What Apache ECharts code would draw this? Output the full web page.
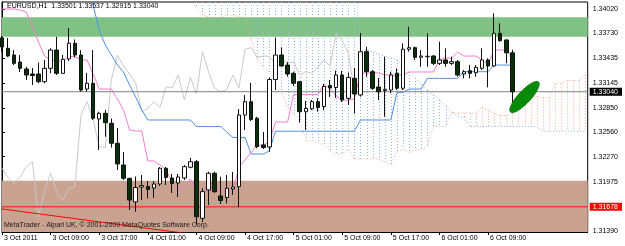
<!DOCTYPE html>
<html><head><meta charset="utf-8">
<script src="https://cdn.jsdelivr.net/npm/echarts@6/dist/echarts.min.js"></script>
<style>html,body{margin:0;padding:0;background:#fff}#c{width:625px;height:246px}</style>
</head><body><div id="c"></div>
<script>
// ---- data (EURUSD H1, bar index 0 = 3 Oct 2011 01:00) ----
const opens = [1.33677,1.33554,1.33475,1.33392,1.33309,1.33250,1.33250,1.33159,1.33317,1.33534,
1.33258,1.33428,1.33614,1.33475,1.33072,1.33140,1.32717,1.32784,1.32666,1.32429,
1.32172,1.32014,1.31734,1.31911,1.31917,1.31899,1.31947,1.32133,1.32018,1.31959,
1.32018,1.32145,1.32211,1.31540,1.31876,1.32074,1.31805,1.31787,1.31887,1.31915,
1.32764,1.32922,1.32725,1.32409,1.32385,1.33185,1.33475,1.33356,1.33258,1.33159,
1.32803,1.32838,1.32922,1.32865,1.33114,1.33090,1.33238,1.32962,1.33199,1.33001,
1.33514,1.33277,1.33096,1.33055,1.33060,1.33258,1.33081,1.33543,1.33562,1.33448,
1.33455,1.33463,1.33376,1.33416,1.33376,1.33396,1.33250,1.33289,1.33265,1.33317,
1.33416,1.33345,1.33732,1.33653,1.33501];
const highs = [1.33700,1.33677,1.33534,1.33475,1.33336,1.33321,1.33386,1.33416,1.33554,1.33692,
1.33475,1.33795,1.33659,1.33534,1.33262,1.33534,1.32803,1.32823,1.32723,1.32610,
1.32326,1.32018,1.32036,1.32054,1.31982,1.31982,1.32148,1.32148,1.32065,1.32065,
1.32172,1.32255,1.32231,1.31896,1.32093,1.32093,1.32034,1.32054,1.32089,1.32835,
1.33001,1.33144,1.32744,1.32563,1.33209,1.33682,1.33564,1.33392,1.33277,1.33167,
1.32930,1.32942,1.32962,1.33132,1.33179,1.33291,1.33285,1.33268,1.33321,1.33736,
1.33574,1.33297,1.33202,1.33455,1.33277,1.33317,1.33614,1.33810,1.33574,1.33534,
1.33732,1.33475,1.33633,1.33554,1.33455,1.33416,1.33297,1.33356,1.33356,1.33554,
1.33436,1.33969,1.33851,1.33661,1.33537];
const lows = [1.33510,1.33451,1.33356,1.33274,1.33179,1.33120,1.33140,1.33140,1.33258,1.33238,
1.33250,1.33404,1.33445,1.33040,1.33040,1.32705,1.32350,1.32507,1.32379,1.32113,
1.31994,1.31639,1.31619,1.31757,1.31775,1.31781,1.31923,1.31935,1.31840,1.31793,
1.31994,1.32133,1.31461,1.31497,1.31698,1.31840,1.31710,1.31718,1.31817,1.31674,
1.32587,1.32693,1.32370,1.32361,1.32329,1.33060,1.33336,1.33218,1.33108,1.32675,
1.32587,1.32823,1.32803,1.32823,1.32977,1.32966,1.32918,1.32883,1.32784,1.32981,
1.33218,1.33060,1.32942,1.32744,1.33021,1.33060,1.33060,1.33514,1.33416,1.33336,
1.33336,1.33356,1.33356,1.33336,1.33356,1.33218,1.33199,1.33199,1.33218,1.33297,
1.33092,1.33336,1.33633,1.33377,1.32915];
const closes = [1.33570,1.33463,1.33376,1.33317,1.33238,1.33232,1.33159,1.33317,1.33534,1.33258,
1.33424,1.33614,1.33475,1.33060,1.33140,1.32725,1.32784,1.32673,1.32429,1.32184,
1.32014,1.31757,1.31905,1.31929,1.31882,1.31947,1.32133,1.32024,1.31953,1.32030,
1.32152,1.32211,1.31559,1.31856,1.32074,1.31856,1.31751,1.31896,1.31911,1.32764,
1.32922,1.32711,1.32389,1.32379,1.33185,1.33475,1.33345,1.33250,1.33140,1.32803,
1.32843,1.32922,1.32853,1.33102,1.33084,1.33238,1.32942,1.33209,1.33013,1.33514,
1.33277,1.33081,1.33040,1.33069,1.33238,1.33081,1.33543,1.33562,1.33448,1.33463,
1.33460,1.33376,1.33416,1.33376,1.33396,1.33238,1.33277,1.33258,1.33329,1.33416,
1.33345,1.33732,1.33645,1.33501,1.33040];
const tenkan = [1.34020,1.34020,1.34020,1.34008,1.33985,1.33819,1.33629,1.33463,1.33416,1.33404,
1.33404,1.33457,1.33457,1.33416,1.33416,1.33250,1.33072,1.33072,1.33072,1.32954,
1.32823,1.32587,1.32575,1.32575,1.32220,1.32220,1.32172,1.32113,1.31970,1.31887,
1.31899,1.32006,1.31858,1.31858,1.31858,1.31858,1.31858,1.31858,1.31858,1.32148,
1.32231,1.32320,1.32409,1.32409,1.32444,1.32681,1.32681,1.32681,1.33006,1.33006,
1.33006,1.33006,1.33006,1.33131,1.33072,1.32989,1.32942,1.32942,1.32954,1.33262,
1.33262,1.33262,1.33262,1.33238,1.33238,1.33238,1.33238,1.33274,1.33274,1.33274,
1.33274,1.33274,1.33416,1.33439,1.33439,1.33510,1.33463,1.33463,1.33463,1.33416,
1.33362,1.33534,1.33534,1.33534,1.33439];
const kijun = [1.34435,1.34435,1.34435,1.34435,1.34435,1.34435,1.34435,1.34435,1.34435,1.34435,
1.34435,1.34435,1.34435,1.34435,1.34435,1.34067,1.33771,1.33593,1.33475,1.33356,
1.33274,1.33120,1.32977,1.32823,1.32705,1.32705,1.32705,1.32705,1.32705,1.32705,
1.32705,1.32705,1.32628,1.32628,1.32628,1.32628,1.32628,1.32563,1.32498,1.32498,
1.32498,1.32302,1.32302,1.32302,1.32338,1.32572,1.32572,1.32572,1.32572,1.32572,
1.32572,1.32572,1.32572,1.32572,1.32572,1.32572,1.32572,1.32572,1.32572,1.32705,
1.32705,1.32705,1.32705,1.32705,1.32705,1.33032,1.33032,1.33072,1.33072,1.33072,
1.33198,1.33198,1.33198,1.33198,1.33198,1.33198,1.33277,1.33277,1.33277,1.33277,
1.33277,1.33356,1.33356,1.33356,1.33356];
const chikou = [1.32133,1.32024,1.31953,1.32030,1.32152,1.32211,1.31559,1.31856,1.32074,1.31856,
1.31751,1.31896,1.31911,1.32764,1.32922,1.32711,1.32389,1.32379,1.33185,1.33475,
1.33345,1.33250,1.33140,1.32803,1.32843,1.32922,1.32853,1.33102,1.33084,1.33238,
1.32942,1.33209,1.33013,1.33514,1.33277,1.33081,1.33040,1.33069,1.33238,1.33081,
1.33543,1.33562,1.33448,1.33463,1.33460,1.33376,1.33416,1.33376,1.33396,1.33238,
1.33277,1.33258,1.33329,1.33416,1.33345,1.33732,1.33645,1.33501,1.33040];
const spanA = [1.34245,1.34245,1.34245,1.34245,1.34245,1.34245,1.34245,1.34245,1.34245,1.34245,
1.34245,1.34245,1.34245,1.34245,1.34245,1.34245,1.34245,1.34245,1.34245,1.34245,
1.34245,1.34245,1.34245,1.34245,1.34245,1.34245,1.34227,1.34227,1.34227,1.34221,
1.34210,1.34127,1.34032,1.33949,1.33925,1.33919,1.33919,1.33949,1.33949,1.33925,
1.33925,1.33659,1.33422,1.33333,1.33274,1.33155,1.33048,1.32853,1.32776,1.32699,
1.32462,1.32462,1.32438,1.32409,1.32338,1.32296,1.32302,1.32356,1.32243,1.32243,
1.32243,1.32243,1.32243,1.32210,1.32178,1.32326,1.32362,1.32314,1.32356,1.32356,
1.32391,1.32628,1.32628,1.32628,1.32788,1.32788,1.32788,1.32788,1.32788,1.32853,
1.32823,1.32782,1.32758,1.32758,1.32770,1.32983,1.32983,1.32983,1.32983,1.32971,
1.32971,1.33135,1.33135,1.33173,1.33173,1.33173,1.33238];
const spanB = [1.34601,1.34601,1.34601,1.34601,1.34601,1.34601,1.34601,1.34601,1.34601,1.34601,
1.34601,1.34601,1.34601,1.34601,1.34601,1.34601,1.34601,1.34601,1.34601,1.34601,
1.34601,1.34601,1.34601,1.34601,1.34601,1.34601,1.34601,1.34601,1.34601,1.34601,
1.34601,1.34601,1.34601,1.34601,1.34601,1.34601,1.34601,1.34601,1.34601,1.34601,
1.34601,1.34601,1.34601,1.34601,1.34601,1.34601,1.34601,1.34601,1.34601,1.34601,
1.34601,1.34601,1.34601,1.34601,1.34601,1.34601,1.34601,1.34601,1.34601,1.33534,
1.33534,1.33510,1.33487,1.33463,1.33439,1.33416,1.33356,1.33274,1.33203,1.33131,
1.33060,1.33001,1.32942,1.32871,1.32800,1.32752,1.32741,1.32628,1.32628,1.32628,
1.32628,1.32628,1.32628,1.32628,1.32628,1.32628,1.32628,1.32628,1.32628,1.32572,
1.32572,1.32572,1.32572,1.32572,1.32572,1.32572,1.32572];
const timeTickIdx = [0,8,16,24,32,40,48,56,64,72,80];
const timeLabels = ['3 Oct 2011','3 Oct 09:00','3 Oct 17:00','4 Oct 01:00','4 Oct 09:00','4 Oct 17:00','5 Oct 01:00','5 Oct 09:00','5 Oct 17:00','6 Oct 01:00','6 Oct 09:00'];
const priceTicks = [1.34020,1.33730,1.33435,1.33145,1.32850,1.32560,1.32270,1.31975,1.31390];
const bidPrice = 1.33040;
const hLinePrice = 1.31678;
const resistZone = [1.33922, 1.33692];
const supportZone = [1.31986, 1.31378];
const trendPoints = [[-1, 1.31661], [40, 1.31268]];
const ellipseAnchors = [[83.7, 1.32800, 88.3, 1.33155]];
const yMin = 1.31378, yMax = 1.34103, xMax = 96.4;

// ---- chart ----
const FONT = '"Liberation Sans", Arial, sans-serif';
const chart = echarts.init(document.getElementById('c'), null, {renderer: 'canvas'});
const candleData = opens.map((o, i) => [i, o, closes[i], lows[i], highs[i]]);
const cloudData = spanA.map((a, i) => [i, a, spanB[i]]);
const last = opens.length - 1;
const titleText = 'EURUSD,H1  ' + [opens[last], highs[last], lows[last], closes[last]].map(v => v.toFixed(5)).join(' ');
const labelValues = priceTicks.concat([bidPrice, hLinePrice]);

const option = {
  animation: false,
  grid: {left: 2, right: 30, top: 2, bottom: 14, show: true, borderColor: '#000', borderWidth: 1, backgroundColor: 'transparent'},
  xAxis: {
    type: 'value', min: 0, max: xMax,
    axisLine: {show: true, lineStyle: {color: '#000', width: 1}},
    axisTick: {show: true, customValues: timeTickIdx, length: 3, lineStyle: {color: '#000'}},
    axisLabel: {customValues: timeTickIdx, formatter: v => timeLabels[timeTickIdx.indexOf(Math.round(v))] || '', align: 'left', padding: [0, 0, 0, 2], fontSize: 7, fontFamily: FONT, color: '#000', margin: 3},
    splitLine: {show: false}
  },
  yAxis: {
    type: 'value', position: 'right', min: yMin, max: yMax,
    axisLine: {show: true, lineStyle: {color: '#000', width: 1}},
    axisTick: {show: true, customValues: priceTicks, length: 3, lineStyle: {color: '#000'}},
    axisLabel: {customValues: labelValues, fontSize: 7, fontFamily: FONT, color: '#000', margin: 2,
      formatter: v => {
        const s = v.toFixed(5);
        if (Math.abs(v - bidPrice) < 1e-7) return '{bid|' + s + '}';
        if (Math.abs(v - hLinePrice) < 1e-7) return '{red|' + s + '}';
        return '{n|' + s + '}';
      },
      rich: {
        n: {fontSize: 7, fontFamily: FONT, color: '#000', padding: [0, 0, 0, 3]},
        bid: {fontSize: 7, fontFamily: FONT, color: '#fff', backgroundColor: '#000', padding: [1, 4, 0, 3]},
        red: {fontSize: 7, fontFamily: FONT, color: '#fff', backgroundColor: '#FF0000', padding: [1, 4, 0, 3]}
      }
    },
    splitLine: {show: false}
  },
  graphic: [
    {type: 'text', left: 7, top: 3, z: 100, style: {text: titleText, font: '7px ' + FONT, fill: '#000'}},
    {type: 'text', left: 4, top: 222, z: 100, style: {text: 'MetaTrader - Alpari UK, \u00a9 2001-2009 MetaQuotes Software Corp.', font: '7px ' + FONT, fill: '#1a1a1a'}}
  ],
  series: [
    { // zones
      type: 'line', data: [], silent: true, z: 0,
      markArea: {silent: true, data: [
        [{yAxis: resistZone[0], itemStyle: {color: '#80C283'}}, {yAxis: resistZone[1]}],
        [{yAxis: supportZone[0], itemStyle: {color: '#C9A290'}}, {yAxis: supportZone[1]}]
      ]}
    },
    { // kumo hatching
      type: 'custom', z: 1, silent: true, data: cloudData,
      renderItem: function (params, api) {
        const i = api.value(0), a = api.value(1), b = api.value(2);
        const pa = api.coord([i, a]), pb = api.coord([i, b]);
        const cs = params.coordSys;
        const y1 = Math.max(Math.min(pa[1], pb[1]), cs.y);
        const y2 = Math.min(Math.max(pa[1], pb[1]), cs.y + cs.height);
        if (y2 <= y1 || pa[0] > cs.x + cs.width) return null;
        const x = Math.round(pa[0]) + 0.5;
        return {type: 'line', shape: {x1: x, y1: y1, x2: x, y2: y2},
          style: {stroke: b > a ? '#8FB6E2' : '#EFAE9C', lineWidth: 1, lineDash: [1, 2]}};
      }
    },
    {type: 'line', name: 'SpanA', z: 2, data: spanA.map((v, i) => [i, v]), showSymbol: false, silent: true,
      lineStyle: {color: '#EFA898', width: 1, type: [1, 2]}},
    {type: 'line', name: 'SpanB', z: 2, data: spanB.map((v, i) => [i, v]), showSymbol: false, silent: true,
      lineStyle: {color: '#8FB6E2', width: 1, type: [1, 2]}},
    {type: 'line', name: 'Chikou', z: 3, data: chikou.map((v, i) => [i, v]), showSymbol: false, silent: true,
      lineStyle: {color: '#C8C8C8', width: 1}},
    {type: 'line', name: 'Kijun', z: 3, data: kijun.map((v, i) => [i, v]), showSymbol: false, silent: true,
      lineStyle: {color: '#5090E6', width: 1}},
    {type: 'line', name: 'Tenkan', z: 3, data: tenkan.map((v, i) => [i, v]), showSymbol: false, silent: true,
      lineStyle: {color: '#F27DD0', width: 1}},
    {type: 'line', name: 'Bid', z: 4, data: [[0, bidPrice], [xMax, bidPrice]], showSymbol: false, silent: true,
      lineStyle: {color: '#808080', width: 1}},
    {type: 'line', name: 'HLine', z: 4, data: [[0, hLinePrice], [xMax, hLinePrice]], showSymbol: false, silent: true,
      lineStyle: {color: '#F03C3C', width: 1.5}},
    {type: 'line', name: 'Trend', z: 4, data: trendPoints, showSymbol: false, silent: true,
      lineStyle: {color: '#FF0000', width: 1}},
    {
      type: 'candlestick', z: 5, data: candleData, barWidth: 4,
      dimensions: ['t', 'open', 'close', 'low', 'high'],
      encode: {x: 't', y: ['open', 'close', 'low', 'high']},
      itemStyle: {color: '#FFFFFF', color0: '#0B2E0B', borderColor: '#111', borderColor0: '#111', borderWidth: 1}
    },
    { // drawn ellipse object
      type: 'custom', z: 6, silent: true, data: ellipseAnchors,
      renderItem: function (params, api) {
        const p1 = api.coord([api.value(0), api.value(1)]);
        const p2 = api.coord([api.value(2), api.value(3)]);
        const cx = (p1[0] + p2[0]) / 2, cy = (p1[1] + p2[1]) / 2;
        const ra = Math.hypot(p2[0] - p1[0], p2[1] - p1[1]) / 2, rb = ra * 0.3;
        const ang = Math.atan2(p2[1] - p1[1], p2[0] - p1[0]);
        const pts = [];
        for (let k = 0; k < 48; k++) {
          const t = k / 48 * Math.PI * 2;
          const lx = ra * Math.cos(t), ly = rb * Math.sin(t);
          pts.push([cx + lx * Math.cos(ang) - ly * Math.sin(ang), cy + lx * Math.sin(ang) + ly * Math.cos(ang)]);
        }
        return {type: 'polygon', shape: {points: pts}, style: {fill: '#088A08', stroke: '#067A06', lineWidth: 1}};
      }
    }
  ]
};
chart.setOption(option);
</script>
</body></html>
